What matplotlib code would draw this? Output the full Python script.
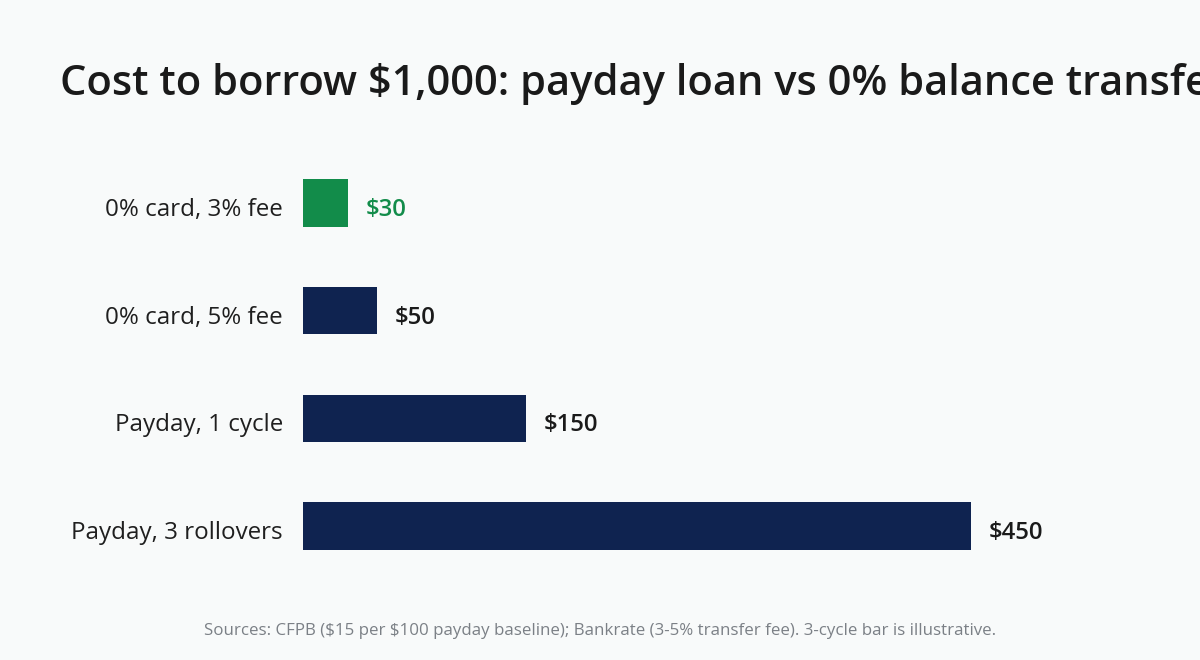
import matplotlib
matplotlib.use("Agg")
import matplotlib.pyplot as plt
from matplotlib.transforms import offset_copy

categories = ["0% card, 3% fee", "0% card, 5% fee", "Payday, 1 cycle", "Payday, 3 rollovers"]
costs = [30, 50, 150, 450]
value_labels = ["\\$30", "\\$50", "\\$150", "\\$450"]
bar_colors = ["#128c4a", "#0f2350", "#0f2350", "#0f2350"]
label_colors = ["#128c4a", "#1a1a1a", "#1a1a1a", "#1a1a1a"]

title = "Cost to borrow \\$1,000: payday loan vs 0% balance transfer"
footer = "Sources: CFPB (\\$15 per \\$100 payday baseline); Bankrate (3-5% transfer fee). 3-cycle bar is illustrative."

BG = "#f8fafa"
FONT = ["Open Sans", "DejaVu Sans"]
plt.rcParams["font.family"] = FONT

W, H = 1200, 660
fig = plt.figure(figsize=(W / 100, H / 100), dpi=100, facecolor=BG)

px_per_unit = 668 / 450
left_px = 303
right_px = 1100
xmax = (right_px - left_px) / px_per_unit
top_px, bot_px = 149.2, 579.8
ax = fig.add_axes([left_px / W, 1 - bot_px / H, (right_px - left_px) / W, (bot_px - top_px) / H])
ax.set_facecolor(BG)

ypos = list(range(len(categories)))
ax.barh(ypos, costs, height=0.44, color=bar_colors)
ax.set_xlim(0, xmax)
ax.set_ylim(len(categories) - 0.5, -0.5)
ax.set_xticks([])
ax.set_yticks([])
for s in ax.spines.values():
    s.set_visible(False)

# text shifted down a few pixels (as in the reference)
down = offset_copy(ax.transData, fig=fig, x=0, y=-7, units="dots")
for y, cat in zip(ypos, categories):
    ax.text(-20 / px_per_unit, y, cat, va="center", ha="right", fontsize=17.4,
            color="#1f1f1f", transform=down, clip_on=False)

for y, v, lab, c in zip(ypos, costs, value_labels, label_colors):
    ax.text(v + 12, y, lab, va="center", ha="left", fontsize=17.2,
            fontweight="semibold", color=c, transform=down, clip_on=False)

fig.text(60 / W, 1 - 95 / H, title, fontsize=30, fontweight="semibold",
         color="#1a1a1a", ha="left", va="baseline")
fig.text(600 / W, 1 - 631 / H, footer, fontsize=12.2, color="#7b8086",
         ha="center", va="center")

fig.savefig("out.png", dpi=100, facecolor=BG)
